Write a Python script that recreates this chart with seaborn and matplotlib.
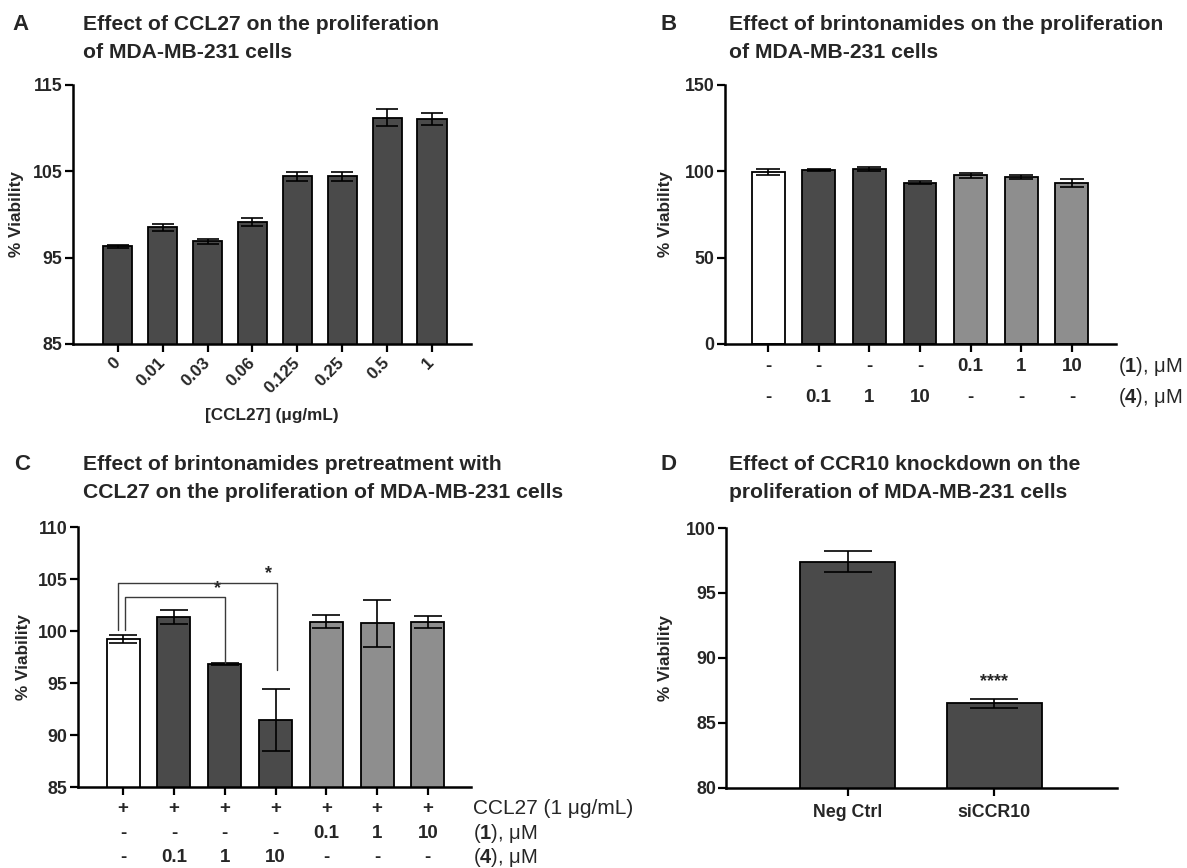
import numpy as np
import pandas as pd
import seaborn as sns
import matplotlib
matplotlib.use("Agg")
import matplotlib.pyplot as plt

# ---- data ----
# A: CCL27 dose response
ccl27_doses = ["0", "0.01", "0.03", "0.06", "0.125", "0.25", "0.5", "1"]
ccl27_mean = [96.3, 98.5, 96.9, 99.1, 104.4, 104.4, 111.2, 111.1]
ccl27_sem = [0.2, 0.45, 0.3, 0.45, 0.5, 0.55, 1.0, 0.7]

# B: brintonamides alone
b_groups = ["vehicle", "(4) 0.1", "(4) 1", "(4) 10", "(1) 0.1", "(1) 1", "(1) 10"]
b_kind = ["vehicle", "4", "4", "4", "1", "1", "1"]
b_cpd1 = ["-", "-", "-", "-", "0.1", "1", "10"]
b_cpd4 = ["-", "0.1", "1", "10", "-", "-", "-"]
b_mean = [99.6, 100.9, 101.3, 93.5, 97.8, 96.7, 93.2]
b_sem = [1.7, 0.5, 1.2, 1.0, 1.5, 1.1, 2.3]

# C: brintonamides + CCL27
c_groups = ["CCL27", "CCL27+(4) 0.1", "CCL27+(4) 1", "CCL27+(4) 10",
            "CCL27+(1) 0.1", "CCL27+(1) 1", "CCL27+(1) 10"]
c_kind = ["vehicle", "4", "4", "4", "1", "1", "1"]
c_ccl27 = ["+", "+", "+", "+", "+", "+", "+"]
c_cpd1 = ["-", "-", "-", "-", "0.1", "1", "10"]
c_cpd4 = ["-", "0.1", "1", "10", "-", "-", "-"]
c_mean = [99.25, 101.35, 96.85, 91.45, 100.9, 100.75, 100.85]
c_sem = [0.37, 0.7, 0.1, 3.0, 0.6, 2.27, 0.55]

# D: CCR10 knockdown
d_groups = ["Neg Ctrl", "siCCR10"]
d_mean = [97.4, 86.5]
d_sem = [0.82, 0.38]

kind_colors = {"vehicle": "#ffffff", "4": "#4a4a4a", "1": "#8e8e8e"}
DARK = "#4a4a4a"

sns.set_theme(style="ticks")
plt.rcParams["font.family"] = ["Liberation Sans", "DejaVu Sans"]
plt.rcParams["font.weight"] = "bold"
plt.rcParams["mathtext.fontset"] = "custom"
plt.rcParams["mathtext.rm"] = "Liberation Sans"
plt.rcParams["mathtext.bf"] = "Liberation Sans:bold"

fig = plt.figure(figsize=(11.87, 8.68), dpi=100)


def draw_bars(ax, groups, means, sems, colors, capsize):
    df = pd.DataFrame({"group": groups, "viability": means})
    sns.barplot(data=df, x="group", y="viability", hue="group",
                palette=dict(zip(groups, colors)), legend=False,
                width=0.65, saturation=1, errorbar=None,
                edgecolor="black", linewidth=1.3, ax=ax)
    ax.errorbar(np.arange(len(means)), means, yerr=sems, fmt="none",
                ecolor="black", elinewidth=1.2, capsize=capsize,
                capthick=1.2, zorder=4)
    ax.set_xlabel("")
    ax.set_ylabel("% Viability", fontsize=12.3, fontweight="bold")
    sns.despine(ax=ax)
    for s in ["left", "bottom"]:
        ax.spines[s].set_linewidth(1.8)
        ax.spines[s].set_color("black")
    ax.tick_params(axis="both", length=5.5, width=1.6, color="black",
                   labelsize=12.8, pad=2)
    for t in ax.get_yticklabels():
        t.set_fontweight("bold")


def panel_title(x, y, letter, lines):
    fig.text(x[0], y, letter, fontsize=16, fontweight="bold", va="center")
    fig.text(x[1], y, lines[0], fontsize=15.2, fontweight="bold", va="center")
    fig.text(x[1], y - 27 / 868, lines[1], fontsize=15.2, fontweight="bold", va="center")


def row_labels(ax, values, offset_px, size=13.5):
    for i, v in enumerate(values):
        ax.annotate(v, xy=(i, 0), xycoords=("data", "axes fraction"),
                    xytext=(0, -offset_px * 0.72), textcoords="offset points",
                    ha="center", va="center", fontsize=size, fontweight="bold")


def row_caption(ax, text, offset_px, dx_px=2, size=14.5):
    ax.annotate(text, xy=(1, 0), xycoords="axes fraction",
                xytext=(dx_px * 0.72, -offset_px * 0.72), textcoords="offset points",
                ha="left", va="center", fontsize=size, fontweight="normal")


# ---- A ----
axA = fig.add_axes([0.0615, 0.6037, 0.3353, 0.2984])
draw_bars(axA, ccl27_doses, ccl27_mean, ccl27_sem, [DARK] * len(ccl27_doses), 8)
axA.set_ylim(85, 115)
axA.set_yticks([85, 95, 105, 115])
axA.set_xlim(-1, len(ccl27_doses) - 1 + 0.87)
axA.set_xticks(range(len(ccl27_doses)))
axA.set_xticklabels(ccl27_doses, rotation=45, ha="right", va="center",
                    rotation_mode="anchor", fontsize=12.3, fontweight="bold")
axA.tick_params(axis="x", pad=6)
axA.set_xlabel("[CCL27] (μg/mL)", fontsize=12.3, fontweight="bold", labelpad=9)
axA.yaxis.set_label_coords(-0.123, 0.5)
panel_title((12 / 1187, 83 / 1187), 1 - 25 / 868, "A",
            ["Effect of CCL27 on the proliferation", "of MDA-MB-231 cells"])

# ---- B ----
axB = fig.add_axes([0.6108, 0.6037, 0.3294, 0.2984])
draw_bars(axB, b_groups, b_mean, b_sem, [kind_colors[k] for k in b_kind], 8.4)
axB.set_ylim(0, 150)
axB.set_yticks([0, 50, 100, 150])
axB.set_xlim(-0.85, len(b_groups) - 1 + 0.87)
axB.tick_params(axis="x", labelbottom=False)
axB.yaxis.set_label_coords(-0.133, 0.5)
row_labels(axB, b_cpd1, 23)
row_labels(axB, b_cpd4, 54)
row_caption(axB, r"($\mathbf{1}$), μM", 23)
row_caption(axB, r"($\mathbf{4}$), μM", 54)
panel_title((660 / 1187, 729 / 1187), 1 - 25 / 868, "B",
            ["Effect of brintonamides on the proliferation", "of MDA-MB-231 cells"])

# ---- C ----
axC = fig.add_axes([0.0657, 0.0933, 0.3311, 0.2995])
draw_bars(axC, c_groups, c_mean, c_sem, [kind_colors[k] for k in c_kind], 10)
axC.set_ylim(85, 110)
axC.set_yticks([85, 90, 95, 100, 105, 110])
axC.set_xlim(-0.89, len(c_groups) - 1 + 0.85)
axC.tick_params(axis="x", labelbottom=False)
axC.yaxis.set_label_coords(-0.12, 0.5)
row_labels(axC, c_ccl27, 21)
row_labels(axC, c_cpd1, 46)
row_labels(axC, c_cpd4, 70)
row_caption(axC, "CCL27 (1 μg/mL)", 21, size=15)
row_caption(axC, r"($\mathbf{1}$), μM", 46)
row_caption(axC, r"($\mathbf{4}$), μM", 70)

# significance brackets (vehicle vs (4) 1 and (4) 10)
brk_kw = dict(color="#3a3a3a", lw=1.0, zorder=5)
axC.plot([0.04, 0.04, 2.01, 2.01], [100.1, 103.24, 103.24, c_mean[2] + 0.12], **brk_kw)
axC.plot([-0.11, -0.11, 3.02, 3.02], [100.1, 104.64, 104.64, 96.25], **brk_kw)
axC.text(1.85, 103.3, "*", ha="center", va="bottom", fontsize=13, fontweight="bold")
axC.text(2.86, 104.7, "*", ha="center", va="bottom", fontsize=13, fontweight="bold")
panel_title((14 / 1187, 83 / 1187), 1 - 465 / 868, "C",
            ["Effect of brintonamides pretreatment with",
             "CCL27 on the proliferation of MDA-MB-231 cells"])

# ---- D ----
axD = fig.add_axes([0.612, 0.0922, 0.329, 0.2995])
draw_bars(axD, d_groups, d_mean, d_sem, [DARK, DARK], 17.5)
axD.set_ylim(80, 100)
axD.set_yticks([80, 85, 90, 95, 100])
axD.set_xlim(-0.83, len(d_groups) - 1 + 0.84)
for t in axD.get_xticklabels():
    t.set_fontweight("bold")
axD.tick_params(axis="x", pad=6)
axD.yaxis.set_label_coords(-0.137, 0.5)
axD.text(1, 87.5, "****", ha="center", va="bottom", fontsize=13, fontweight="bold")
panel_title((660 / 1187, 729 / 1187), 1 - 465 / 868, "D",
            ["Effect of CCR10 knockdown on the", "proliferation of MDA-MB-231 cells"])

fig.savefig("out.png", dpi=100)
